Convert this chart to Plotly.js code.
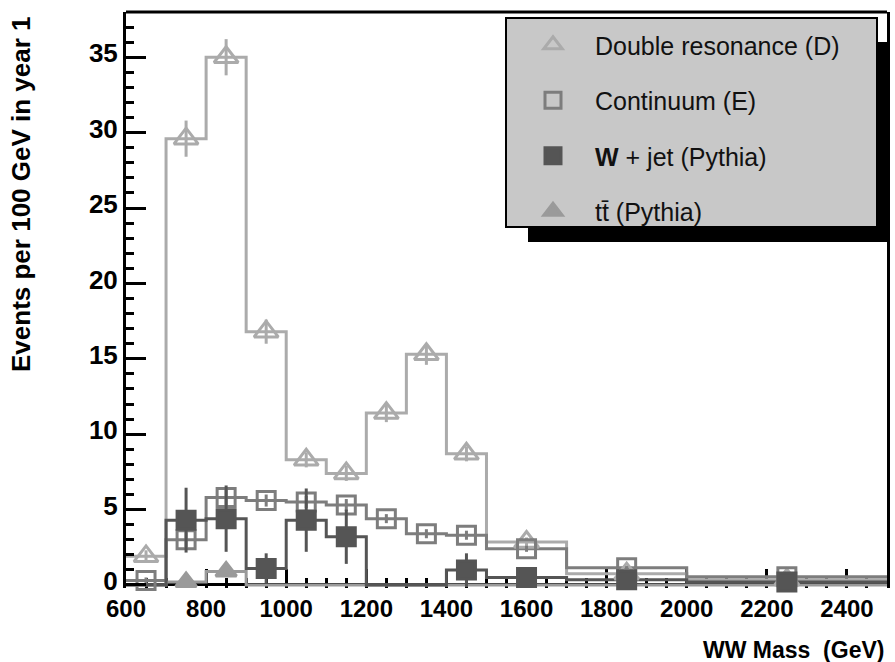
<!DOCTYPE html>
<html>
<head>
<meta charset="utf-8">
<script src="https://cdn.plot.ly/plotly-3.0.1.min.js"></script>
<style>html,body{margin:0;padding:0;background:#fff;}#chart{width:895px;height:662px;}</style>
</head>
<body>
<div id="chart"></div>
<script>
// Bin edges (GeV) – last bins are wider
const edges = [600,700,800,900,1000,1100,1200,1300,1400,1500,1700,2000,2500];
// Double resonance (D)
const dres    = [1.9,29.6,35.0,16.8,8.3,7.4,11.4,15.3,8.7,2.85,0.75,0.35];
const dresErr = [0.4,1.2,1.2,0.8,0.5,0.5,0.6,0.7,0.5,0.3,0.2,0.1];
// Continuum (E)
const cont    = [0.3,3.0,5.8,5.6,5.5,5.3,4.4,3.4,3.3,2.4,1.15,0.55];
const contErr = [0.2,0.5,0.5,0.4,0.4,0.4,0.3,0.3,0.3,0.2,0.1,0.1];
// W + jet (Pythia)
const wjet    = [0,4.3,4.4,1.1,4.3,3.2,0,0,1.0,0.5,0.35,0.2];
const wjetErr = [0,2.15,2.2,1.0,2.1,1.8,0,0,1.1,0.4,0.3,0.2];
// ttbar (Pythia)
const ttbar   = [0,0.2,0.9,0,0,0,0,0,0,0,0,0];

const xTickVals = [600,800,1000,1200,1400,1600,1800,2000,2200,2400];
const legendNames = ['Double resonance (D)','Continuum (E)','<b>W</b> + jet (Pythia)','tt\u0304 (Pythia)'];

const centers = edges.slice(0,-1).map((e,i)=>(e+edges[i+1])/2);
function stepY(v){ return v.concat([v[v.length-1]]); }
function nz(v){ return v.map(a=> a>0 ? a : null); }

const cD='#ababab', cE='#7d7d7d', cW='#555555', cT='#9a9a9a';
const FONT='Liberation Sans, Arial, sans-serif';

function hist(vals,color,name){
  return {x:edges,y:stepY(vals),type:'scatter',mode:'lines',line:{shape:'hv',color:color,width:3},
          showlegend:false,hoverinfo:'skip',cliponaxis:false,name:name};
}
function pts(vals,errs,color,symbol,size,name,group){
  const t = {x:centers,y:nz(vals),type:'scatter',mode:'markers',name:name,legendgroup:group,
    cliponaxis:false,
    marker:{symbol:symbol,size:size,color:color,line:{color:color,width:3}}};
  if(errs){ t.error_y={type:'data',array:errs,visible:true,color:color,thickness:3,width:0}; }
  return t;
}

const traces = [
  hist(ttbar,cT,'tth'),
  hist(dres,cD,'dh'),
  hist(cont,cE,'eh'),
  hist(wjet,cW,'wh'),
  pts(dres,dresErr,cD,'triangle-up-open',21,legendNames[0],'g1'),
  pts(cont,contErr,cE,'square-open',18,legendNames[1],'g2'),
  pts(wjet,wjetErr,cW,'square',18,legendNames[2],'g3'),
  pts(ttbar,null,cT,'triangle-up',18,legendNames[3],'g4')
];

const L=126, R=887, T=12, B=588;
function px(x){return (x-L)/(R-L);}
function py(y){return (B-y)/(B-T);}

const layout = {
  width:895,height:662,
  margin:{l:L,r:895-R,t:T,b:662-B,pad:0},
  paper_bgcolor:'#fff',plot_bgcolor:'#fff',
  font:{family:FONT,color:'#000'},
  xaxis:{range:[600,2500],tickvals:xTickVals,ticks:'inside',ticklen:19,tickwidth:3,tickcolor:'#000',
    showline:false,showgrid:false,zeroline:false,layer:'below traces',ticklabelstandoff:4,
    tickfont:{family:FONT,size:24,weight:'bold',color:'#000'},
    minor:{dtick:50,ticks:'inside',ticklen:10,tickwidth:3,tickcolor:'#000',showgrid:false}},
  yaxis:{range:[-0.2,38],dtick:5,tick0:0,ticks:'inside',ticklen:20,tickwidth:3,tickcolor:'#000',
    showline:true,linecolor:'#000',linewidth:3,mirror:true,showgrid:false,
    zeroline:true,zerolinecolor:'#000',zerolinewidth:3,ticklabelshift:-4,
    tickfont:{family:FONT,size:26,weight:'bold',color:'#000'},
    minor:{dtick:1,tick0:0,ticks:'inside',ticklen:8,tickwidth:3,tickcolor:'#000',showgrid:false}},
  showlegend:true,
  legend:{x:px(511),y:py(22),xanchor:'left',yanchor:'top',bgcolor:'rgba(0,0,0,0)',borderwidth:0,
    traceorder:'grouped',tracegroupgap:20,itemwidth:74,
    font:{family:FONT,size:25,color:'#111'}},
  shapes:[
    {type:'line',xref:'paper',yref:'paper',x0:0,x1:1,y0:1,y1:1,line:{color:'#000',width:3},layer:'above'},
    {type:'rect',xref:'paper',yref:'paper',x0:px(528),x1:px(889),y0:py(242),y1:py(42),
     fillcolor:'#000',line:{width:0},layer:'above'},
    {type:'rect',xref:'paper',yref:'paper',x0:px(506),x1:px(877),y0:py(227),y1:py(18),
     fillcolor:'#c8c8c8',line:{color:'#000',width:2},layer:'above'}
  ],
  annotations:[
    {text:'Events per 100 GeV in year 1',xref:'paper',yref:'paper',x:px(21),y:py(194),
     xanchor:'center',yanchor:'middle',textangle:-90,showarrow:false,
     font:{family:FONT,size:26,weight:'bold',color:'#000'}},
    {text:'WW Mass\u00a0 (GeV)',xref:'paper',yref:'paper',x:px(886),y:py(650),
     xanchor:'right',yanchor:'middle',showarrow:false,
     font:{family:FONT,size:23,weight:'bold',color:'#000'}}
  ]
};

Plotly.newPlot('chart',traces,layout,{displayModeBar:false,staticPlot:true});
</script>
</body>
</html>
